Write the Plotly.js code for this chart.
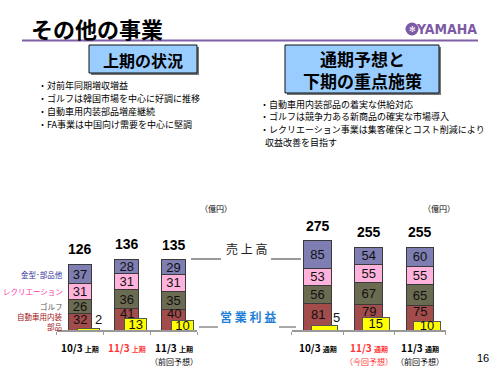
<!DOCTYPE html>
<html><head><meta charset="utf-8">
<script src="https://cdn.plot.ly/plotly-3.0.1.min.js"></script>
<style>html,body{margin:0;padding:0;background:#fff}#c{width:500px;height:375px}</style>
</head><body><div id="c"></div>
<script>
// ---- data ----
const catLeft = ['10/3 上期', '11/3 上期', '11/3 上期（前回予想）'];
const catRight = ['10/3 通期', '11/3 通期（今回予想）', '11/3 通期（前回予想）'];
const yearLeft = ['10/3', '11/3', '11/3'];
const yearRight = ['10/3', '11/3', '11/3'];
const periodLeft = '上期';
const periodRight = '通期';
const noteLeft = ['', '', '（前回予想）'];
const noteRight = ['', '（今回予想）', '（前回予想）'];
const segNames = ['自動車用内装<br>部品', 'ゴルフ', 'レクリエーション', '金型･部品他'];
const leftAuto = [32, 41, 40];
const leftGolf = [26, 36, 35];
const leftRec = [31, 31, 31];
const leftMold = [37, 28, 29];
const leftProfit = [2, 13, 10];
const leftTotal = [126, 136, 135];
const rightAuto = [81, 79, 75];
const rightGolf = [56, 67, 65];
const rightRec = [53, 55, 55];
const rightMold = [85, 54, 60];
const rightProfit = [5, 15, 10];
const rightTotal = [275, 255, 255];
const bulletsLeft = ['・対前年同期増収増益', '・ゴルフは韓国市場を中心に好調に推移', '・自動車用内装部品増産継続', '・FA事業は中国向け需要を中心に堅調'];
const bulletsRight = ['・自動車用内装部品の着実な供給対応', '・ゴルフは競争力ある新商品の確実な市場導入', '・レクリエーション事業は集客確保とコスト削減により', '  収益改善を目指す'];

// ---- styles ----
const segColors = ['#a24c4c', '#6b6b52', '#ffb3dc', '#7e7eb2'];
const segLabelColors = ['#a01010', '#555555', '#ff33aa', '#333399'];
const catColors = ['#000000', '#ff3333', '#000000'];
const JP = 'Noto Sans CJK JP, sans-serif';
const AR = 'Liberation Sans, Arial, sans-serif';
const P = x => x / 500, Q = y => 1 - y / 375;

const ann = [];
function A(o) { ann.push(Object.assign({showarrow: false}, o)); }

const traces = [];
function addChart(cats, segs, profit, xa, ya, yp, w, poff, pw) {
  segs.forEach((vals, i) => {
    traces.push({type: 'bar', x: cats, y: vals, xaxis: xa, yaxis: ya, width: w,
      marker: {color: segColors[i], line: {color: '#3a3a3a', width: 1}},
      text: vals.map(String), textposition: i === 0 ? 'none' : 'inside', insidetextanchor: 'middle', textangle: 0,
      textfont: {family: AR, size: 13, color: '#111'}, hoverinfo: 'skip', showlegend: false});
  });
  // bottom segment labels sit above the profit box
  segs[0].forEach((v, j) => A({xref: xa, yref: ya, x: cats[j], y: v / 2, yanchor: 'middle', yshift: profit[j] < 6 ? 2 : 6,
     text: String(v), font: {family: AR, size: 13, color: '#111'}}));
  traces.push({type: 'bar', x: cats, y: profit, xaxis: xa, yaxis: yp, width: pw, offset: poff,
    marker: {color: '#ffff00', line: {color: '#555', width: 1}},
    text: profit.map(String), textposition: profit.map(v => v < 6 ? 'none' : 'inside'), textangle: 0,
    insidetextanchor: 'middle', textfont: {family: AR, size: 13, color: '#111'},
    hoverinfo: 'skip', showlegend: false});
}
addChart(catLeft, [leftAuto, leftGolf, leftRec, leftMold], leftProfit, 'x', 'y', 'y3', 0.51, -0.043, 0.47);
addChart(catRight, [rightAuto, rightGolf, rightRec, rightMold], rightProfit, 'x2', 'y2', 'y4', 0.546, -0.127, 0.526);

// title & header
A({xref: 'paper', yref: 'paper', x: P(29), y: Q(28), xanchor: 'left', yanchor: 'middle',
   text: '<b>その他の事業</b>', font: {family: JP, size: 22, color: '#000'}});
A({xref: 'paper', yref: 'paper', x: P(479), y: Q(29), xanchor: 'right', yanchor: 'middle',
   text: '<b>YAMAHA</b>', font: {family: 'Liberation Sans Narrow, DejaVu Sans Condensed, sans-serif', size: 14, color: '#7d5aa6'}});
A({xref: 'paper', yref: 'paper', x: P(412), y: Q(29), xanchor: 'center', yanchor: 'middle',
   text: '✻', font: {family: 'DejaVu Sans', size: 8, color: '#fff'}});
A({xref: 'paper', yref: 'paper', x: P(143), y: Q(59.5), xanchor: 'center', yanchor: 'middle',
   text: '<b>上期の状況</b>', font: {family: JP, size: 16, color: '#000'}});
A({xref: 'paper', yref: 'paper', x: P(362), y: Q(70), xanchor: 'center', yanchor: 'middle',
   text: '<b>通期予想と<br>下期の重点施策</b>', font: {family: JP, size: 17, color: '#000'}});
// bullets
bulletsLeft.forEach((t, i) => A({xref: 'paper', yref: 'paper', x: P(36), y: Q(85 + i * 13.3), xanchor: 'left', yanchor: 'middle',
   text: t, font: {family: JP, size: 9, color: '#000'}}));
bulletsRight.forEach((t, i) => A({xref: 'paper', yref: 'paper', x: P(i === 3 ? 263 : 258), y: Q(104 + i * 12.8), xanchor: 'left', yanchor: 'middle',
   text: t.trim(), font: {family: JP, size: 9, color: '#000'}}));
// units
A({xref: 'paper', yref: 'paper', x: P(216), y: Q(208), text: '（億円）', font: {family: JP, size: 8, color: '#000'}});
A({xref: 'paper', yref: 'paper', x: P(457), y: Q(208), text: '（億円）', font: {family: JP, size: 8, color: '#000'}});
// middle labels
A({xref: 'paper', yref: 'paper', x: P(246), y: Q(259), text: '売 上 高', font: {family: JP, size: 12, color: '#222'}});
A({xref: 'paper', yref: 'paper', x: P(248), y: Q(327), text: '<b>営 業 利 益</b>', font: {family: JP, size: 12, color: '#1f80d8'}});
A({xref: 'paper', yref: 'paper', x: P(491), y: Q(366), text: '16', font: {family: AR, size: 11, color: '#000'}});
// segment labels (left, aligned to first bar)
let cum = 0;
[leftAuto, leftGolf, leftRec, leftMold].forEach((vals, i) => {
  const mid = cum + vals[0] / 2; cum += vals[0];
  A({xref: 'paper', yref: 'y', x: P(65), y: mid, xanchor: 'right', yanchor: 'middle', align: 'right',
     text: segNames[i], font: {family: JP, size: 7.5, color: segLabelColors[i]}});
});
// totals
function totals(cats, tot, xa, ya) {
  cats.forEach((c, i) => A({xref: xa, yref: ya, x: c, y: tot[i], yanchor: 'bottom', yshift: 5,
     text: '<b>' + tot[i] + '</b>', font: {family: AR, size: 14, color: '#000'}}));
}
totals(catLeft, leftTotal, 'x', 'y');
totals(catRight, rightTotal, 'x2', 'y2');
// small profit labels
function smallProfit(cats, prof, xa, ya, poff, pw) {
  cats.forEach((c, i) => { if (prof[i] < 6) A({xref: xa, yref: ya, x: i + poff + pw, y: prof[i], yanchor: 'bottom', xshift: -1, yshift: -1,
     text: String(prof[i]), font: {family: AR, size: 13, color: '#111'}}); });
}
smallProfit(catLeft, leftProfit, 'x', 'y3', -0.043, 0.47);
smallProfit(catRight, rightProfit, 'x2', 'y4', -0.127, 0.526);
// category labels
function cats(catsArr, years, period, notes, xa) {
  catsArr.forEach((c, i) => A({xref: xa, yref: 'paper', x: c, y: Q(338), yanchor: 'top',
     text: '<b>' + years[i] + ' <span style="font-size:7px">' + period + '</span></b>' + (notes[i] ? '<br><span style="font-size:8px">' + notes[i] + '</span>' : ''),
     font: {family: JP, size: 10, color: catColors[i]}}));
}
cats(catLeft, yearLeft, periodLeft, noteLeft, 'x');
cats(catRight, yearRight, periodRight, noteRight, 'x2');

const shapes = [
  {type: 'line', xref: 'paper', yref: 'paper', x0: P(22), x1: P(478), y0: Q(40.5), y1: Q(40.5), line: {color: '#7f5fa8', width: 2}},
  {type: 'circle', xref: 'paper', yref: 'paper', x0: P(405.5), x1: P(418.5), y0: Q(35.5), y1: Q(22.5), fillcolor: '#7d5aa6', line: {width: 0}},
  {type: 'rect', xref: 'paper', yref: 'paper', x0: P(91), x1: P(199), y0: Q(75), y1: Q(47), fillcolor: '#777', line: {width: 0}},
  {type: 'rect', xref: 'paper', yref: 'paper', x0: P(89), x1: P(197), y0: Q(73), y1: Q(45), fillcolor: '#99ccff', line: {color: '#111', width: 1}},
  {type: 'rect', xref: 'paper', yref: 'paper', x0: P(287), x1: P(441), y0: Q(95), y1: Q(47), fillcolor: '#777', line: {width: 0}},
  {type: 'rect', xref: 'paper', yref: 'paper', x0: P(285), x1: P(439), y0: Q(93), y1: Q(45), fillcolor: '#99ccff', line: {color: '#111', width: 1}},
  {type: 'line', xref: 'paper', yref: 'paper', x0: P(191), x1: P(221), y0: Q(259), y1: Q(259), line: {color: '#333', width: 1}},
  {type: 'line', xref: 'paper', yref: 'paper', x0: P(271), x1: P(301), y0: Q(259), y1: Q(259), line: {color: '#333', width: 1}},
  {type: 'line', xref: 'paper', yref: 'paper', x0: P(199), x1: P(218), y0: Q(327), y1: Q(327), line: {color: '#555', width: 1}},
  {type: 'line', xref: 'paper', yref: 'paper', x0: P(279), x1: P(296), y0: Q(327), y1: Q(327), line: {color: '#555', width: 1}}
];

const xBase = {type: 'category', range: [-0.5, 2.5], showgrid: false, zeroline: false, showticklabels: false,
  showline: true, linecolor: '#999', linewidth: 2, ticks: 'outside', tickson: 'boundaries', ticklen: 3, tickcolor: '#999', fixedrange: true};
const yBase = {showgrid: false, zeroline: false, showticklabels: false, showline: false, fixedrange: true};
const layout = {
  width: 500, height: 375, margin: {l: 0, r: 0, t: 0, b: 0},
  paper_bgcolor: '#fff', plot_bgcolor: 'rgba(0,0,0,0)',
  barmode: 'stack', showlegend: false,
  uniformtext: {minsize: 13, mode: 'show'},
  xaxis: Object.assign({}, xBase, {domain: [P(56.6), P(197)], anchor: 'y'}),
  xaxis2: Object.assign({}, xBase, {domain: [P(291.9), P(445.6)], anchor: 'y2'}),
  yaxis: Object.assign({}, yBase, {domain: [Q(330), Q(200)], range: [0, 250], anchor: 'x'}),
  yaxis3: Object.assign({}, yBase, {overlaying: 'y', range: [0, 144], anchor: 'x'}),
  yaxis2: Object.assign({}, yBase, {domain: [Q(330), Q(200)], range: [0, 400], anchor: 'x2'}),
  yaxis4: Object.assign({}, yBase, {overlaying: 'y2', range: [0, 153], anchor: 'x2'}),
  annotations: ann, shapes: shapes
};
Plotly.newPlot('c', traces, layout, {staticPlot: true, displayModeBar: false});
</script></body></html>
